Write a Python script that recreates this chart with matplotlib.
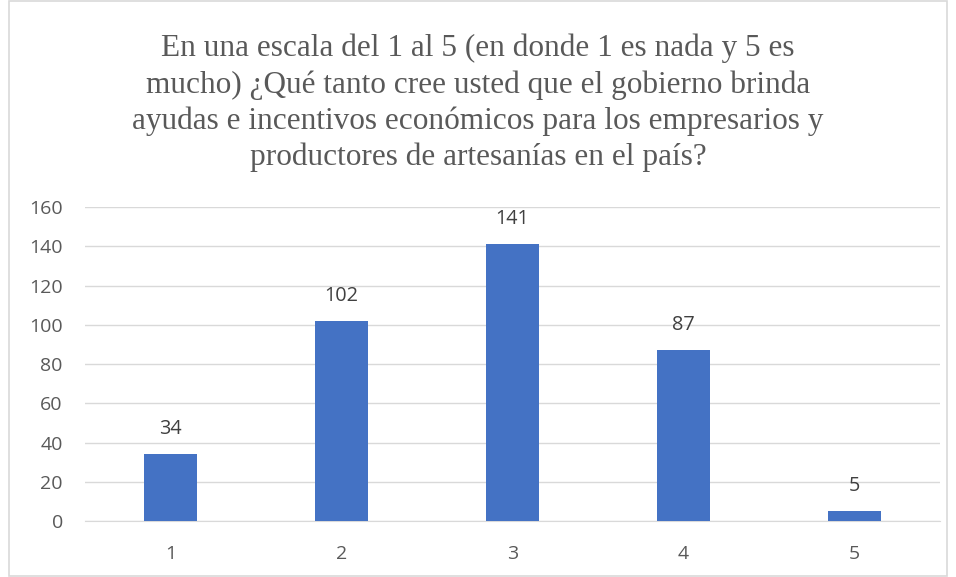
import matplotlib.pyplot as plt
from matplotlib.patches import Rectangle

categories = ["1", "2", "3", "4", "5"]
values = [34, 102, 141, 87, 5]
yticks = [0, 20, 40, 60, 80, 100, 120, 140, 160]
title = ("En una escala del 1 al 5 (en donde 1 es nada y 5 es\n"
         "mucho) ¿Qué tanto cree usted que el gobierno brinda\n"
         "ayudas e incentivos económicos para los empresarios y\n"
         "productores de artesanías en el país?")

W, H = 956, 577
fig = plt.figure(figsize=(W / 100, H / 100), dpi=100)
fig.patches.append(Rectangle((9 / W, 0.002), 938 / W, 0.996, transform=fig.transFigure,
                             fill=False, edgecolor="#d9d9d9", linewidth=1.2))

ax = fig.add_axes([85 / W, 1 - 521 / H, 855 / W, (521 - 207) / H])
x = list(range(len(categories)))
bars = ax.bar(x, values, width=0.31, color="#4472C4", zorder=3)
ax.set_xlim(-0.5, len(categories) - 0.5)
ax.set_ylim(0, 160)
ax.set_yticks(yticks)
ax.set_xticks(x)
ax.set_xticklabels(categories)
ax.grid(axis="y", color="#d9d9d9", linewidth=1, zorder=0)
for s in ["top", "right", "left"]:
    ax.spines[s].set_visible(False)
ax.spines["bottom"].set_color("#d9d9d9")
ax.tick_params(length=0, labelsize=14, colors="#595959")
ax.tick_params(axis="y", pad=16)
ax.tick_params(axis="x", pad=17.5)
for lab in ax.get_xticklabels() + ax.get_yticklabels():
    lab.set_family("Open Sans")
for xi, v in zip(x, values):
    ax.annotate(str(v), (xi, v), xytext=(0, 18), textcoords="offset points",
                ha="center", va="center", fontsize=14.3, color="#404040", family="Open Sans")

fig.text(0.5, 1 - 103 / H, title, ha="center", va="center", fontsize=22.5,
         family="Liberation Serif", color="#595959", linespacing=1.3)

fig.savefig("out.png", dpi=100)
